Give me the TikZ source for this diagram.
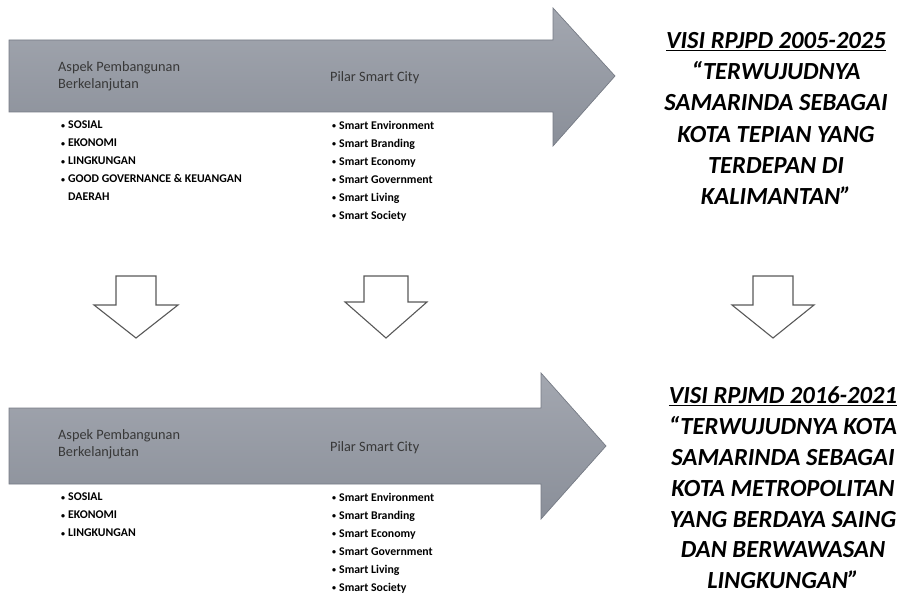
\documentclass[tikz,border=0pt]{standalone}
\usepackage{fontspec}
\setmainfont{Carlito}
\definecolor{arrtop}{HTML}{A3A7B0}
\definecolor{arrbot}{HTML}{8A8F99}
\definecolor{arredge}{HTML}{767B85}
\newcommand\mybul[1]{\makebox[7pt][l]{\raisebox{0.5pt}{\fontsize{8}{8}\selectfont\textbullet}}#1}
\begin{document}
\begin{tikzpicture}[x=1pt,y=-1pt,
  bigarrow/.style={top color=arrtop, bottom color=arrbot, draw=arredge, line width=0.7pt, line join=miter},
  downarrow/.style={fill=white, draw=black!65, line width=1.1pt, line join=miter},
  headtxt/.style={font=\fontsize{14.3}{17.5}\selectfont, text=black!78, inner sep=0pt, align=left, anchor=north west},
  pilar/.style={font=\fontsize{14.3}{17.5}\selectfont, text=black!78, inner sep=0pt, anchor=base west},
  blist/.style={font=\bfseries\fontsize{11.8}{18}\selectfont, inner sep=0pt, align=left, anchor=north west},
  visi/.style={font=\bfseries\itshape\fontsize{24.6}{31.3}\selectfont, inner sep=0pt, align=center, anchor=north}]
\useasboundingbox (0,0) rectangle (903,596);

% big arrows
\path[bigarrow] (9,40) -- (553,40) -- (553,8) -- (615,76) -- (553,146) -- (553,112) -- (9,112) -- cycle;
\path[bigarrow] (9,408) -- (541,408) -- (541,373) -- (606,446) -- (541,519) -- (541,484) -- (9,484) -- cycle;

% down arrows
\path[downarrow] (116,276) -- (156,276) -- (156,305) -- (178,305) -- (136,338) -- (94,305) -- (116,305) -- cycle;
\path[downarrow] (364,276) -- (408,276) -- (408,302) -- (427,302) -- (386,338) -- (345,302) -- (364,302) -- cycle;
\path[downarrow] (753,276) -- (793,276) -- (793,305) -- (814,305) -- (773,338) -- (732,305) -- (753,305) -- cycle;

% top row texts
\node[headtxt] (aspek1) at (58,61) {Aspek Pembangunan\\Berkelanjutan};
\node[pilar] (pilar1) at (330,82) {Pilar Smart City};
\node[blist] (list1) at (61,121) {\mybul{SOSIAL}\\\mybul{EKONOMI}\\\mybul{LINGKUNGAN}\\\mybul{GOOD GOVERNANCE \& KEUANGAN}\\\hspace*{7pt}DAERAH};
\node[blist] (smart1) at (332,121) {\mybul{Smart Environment}\\\mybul{Smart Branding}\\\mybul{Smart Economy}\\\mybul{Smart Government}\\\mybul{Smart Living}\\\mybul{Smart Society}};
\node[visi] (visi1) at (776,32) {\underline{VISI RPJPD 2005-2025}\\“TERWUJUDNYA\\SAMARINDA SEBAGAI\\KOTA TEPIAN YANG\\TERDEPAN DI\\KALIMANTAN”};

% bottom row texts
\node[headtxt] (aspek2) at (58,429) {Aspek Pembangunan\\Berkelanjutan};
\node[pilar] (pilar2) at (330,451) {Pilar Smart City};
\node[blist] (list2) at (61,493) {\mybul{SOSIAL}\\\mybul{EKONOMI}\\\mybul{LINGKUNGAN}};
\node[blist] (smart2) at (332,493) {\mybul{Smart Environment}\\\mybul{Smart Branding}\\\mybul{Smart Economy}\\\mybul{Smart Government}\\\mybul{Smart Living}\\\mybul{Smart Society}};
\node[visi, font=\bfseries\itshape\fontsize{24.6}{30.8}\selectfont] (visi2) at (783,387) {\underline{VISI RPJMD 2016-2021}\\“TERWUJUDNYA KOTA\\SAMARINDA SEBAGAI\\KOTA METROPOLITAN\\YANG BERDAYA SAING\\DAN BERWAWASAN\\LINGKUNGAN”};
\end{tikzpicture}
\end{document}
